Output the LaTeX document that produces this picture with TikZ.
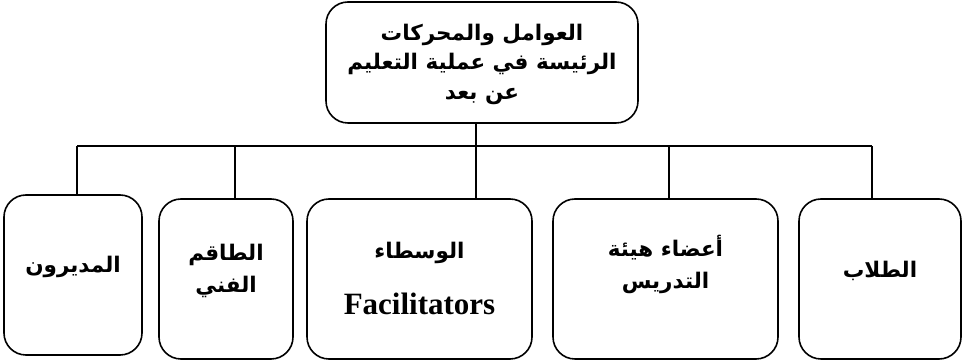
\documentclass[tikz,border=0pt]{standalone}
\usepackage{fontspec}
\setmainfont{Liberation Serif}
\newfontfamily\arabicfont[Script=Arabic]{DejaVu Sans}
\TeXXeTstate=1
\tikzset{
  rootbox/.style={draw, line width=1.6pt, rounded corners=22pt, inner sep=0pt},
  leafbox/.style={draw, line width=1.6pt, rounded corners=22pt, inner sep=0pt, minimum height=160pt},
  boxtext/.style={align=center, font=\arabicfont\bfseries\fontsize{21.5}{32}\selectfont},
  link/.style={line width=1.3pt}
}

\begin{document}
\begin{tikzpicture}[x=1pt, y=1pt]
  \useasboundingbox (0,0) rectangle (963,363);
  % Root box
  \node[rootbox, minimum width=312pt, minimum height=121pt] (root) at (482,300.5) {};
  \node[boxtext, font=\arabicfont\bfseries\fontsize{21.5}{29.5}\selectfont] (rootText) at (482,299)
    {\beginR العوامل والمحركات\endR\\ \beginR الرئيسة في عملية التعليم\endR\\ \beginR عن بعد\endR};
  % Leaf boxes
  \node[leafbox, minimum width=138pt] (mudiroon) at (73,88) {};
  \node[leafbox, minimum width=134pt] (taqim)    at (226,84) {};
  \node[leafbox, minimum width=225pt] (wusataa)  at (419.5,84) {};
  \node[leafbox, minimum width=225pt] (aadaa)    at (665.5,84) {};
  \node[leafbox, minimum width=162pt] (tullab)   at (880,84) {};
  % Leaf texts
  \node[boxtext] (mudiroonText) at (73,96)   {\beginR المديرون\endR};
  \node[boxtext] (taqimText)    at (226,92)  {\beginR الطاقم\endR\\ \beginR الفني\endR};
  \node[boxtext] (wusataaText)  at (419.5,110) {\beginR الوسطاء\endR};
  \node[font=\bfseries\fontsize{31}{33}\selectfont] (facText) at (419.5,59) {Facilitators};
  \node[boxtext] (aadaaText)    at (665.5,99) {\beginR أعضاء هيئة\endR\\ \beginR التدريس\endR};
  \node[boxtext] (tullabText)   at (880,92)  {\beginR الطلاب\endR};
  % Bus
  \coordinate (hub)  at (476,217);
  \coordinate (busL) at (77,217);
  \coordinate (busR) at (872,217);
  \draw[link] (root.south -| hub) -- (hub);
  \draw[link] (busL) -- (busR);
  \foreach \leaf/\xx in {mudiroon/77, taqim/235, wusataa/476, aadaa/669, tullab/872}
    \draw[link] (\xx,217) -- (\xx,217 |- \leaf.north);
\end{tikzpicture}
\end{document}
